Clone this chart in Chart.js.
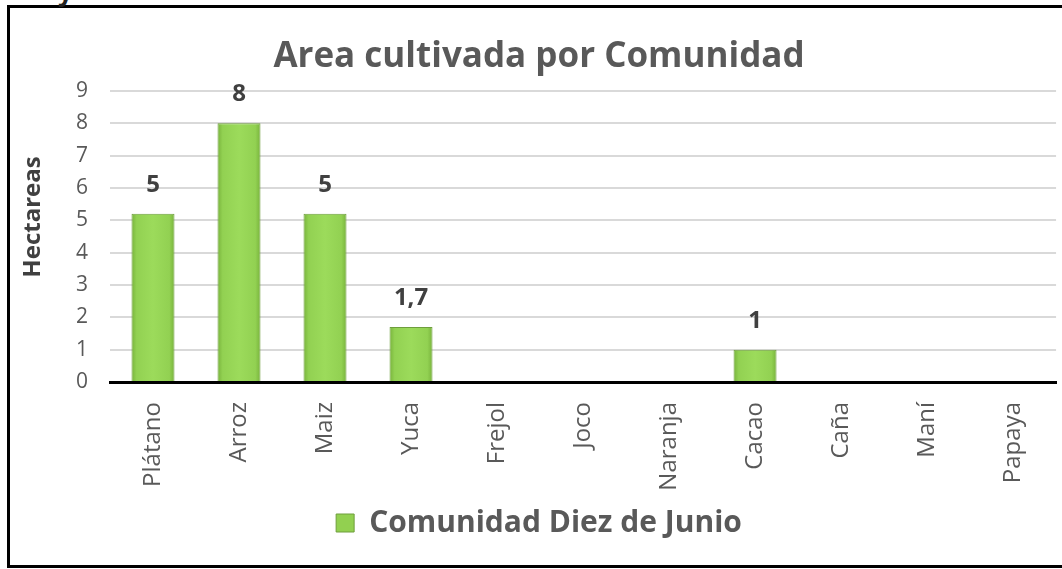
<!DOCTYPE html>
<html>
<head>
<meta charset="utf-8">
<script src="https://cdn.jsdelivr.net/npm/chart.js@4"></script>
<style>
  html, body { margin: 0; padding: 0; background: #fff; overflow: hidden; }
  #wrap { position: relative; width: 1062px; height: 569px; }
  #frame { position: absolute; left: 7px; top: 5px; width: 1100px; height: 563px;
           box-sizing: border-box; border: 3px solid #000; }
  #cut { position: absolute; left: 58px; top: -27px; font: bold 26px "Open Sans"; color: #222; }
  canvas { position: absolute; left: 0; top: 0; }
</style>
</head>
<body>
<div id="wrap">
  <div id="frame"></div>
  <div id="cut">y</div>
  <canvas id="myChart" width="1062" height="569"></canvas>
</div>
<script>
// data
const cultivos = ["Plátano", "Arroz", "Maiz", "Yuca", "Frejol", "Joco", "Naranja", "Cacao", "Caña", "Maní", "Papaya"];
const hectareas = [5.2, 8, 5.2, 1.7, 0, 0, 0, 1, 0, 0, 0];
const etiquetas = ["5", "8", "5", "1,7", "", "", "", "1", "", "", ""];
const ejeY = [0, 1, 2, 3, 4, 5, 6, 7, 8, 9];
const serie = "Comunidad Diez de Junio";

// bar fill with a light bevel look
function barFill(context) {
  const chart = context.chart;
  const xs = chart.scales.x;
  if (!chart.chartArea || !xs || context.dataIndex === undefined) return "#92d050";
  const cx = xs.getPixelForValue(context.dataIndex);
  const w = (xs.width / cultivos.length) * 0.5;
  const g = chart.ctx.createLinearGradient(cx - w / 2, 0, cx + w / 2, 0);
  g.addColorStop(0, "#78b33c");
  g.addColorStop(0.12, "#92d152");
  g.addColorStop(0.5, "#9cdb5b");
  g.addColorStop(0.88, "#92d152");
  g.addColorStop(1, "#78b33c");
  return g;
}

//plugin - value labels above bars + y title
const labelsPlugin = {
  id: "labelsPlugin",
  afterDatasetsDraw(chart) {
    const ctx = chart.ctx;
    const meta = chart.getDatasetMeta(0);
    ctx.save();
    ctx.font = "bold 24px 'Open Sans'";
    ctx.fillStyle = "#404040";
    ctx.textAlign = "center";
    ctx.textBaseline = "middle";
    meta.data.forEach((bar, i) => {
      if (etiquetas[i]) ctx.fillText(etiquetas[i], bar.x, bar.y - 29);
    });
    // y axis title
    ctx.translate(33, 217);
    ctx.rotate(-Math.PI / 2);
    ctx.font = "bold 24px 'Open Sans'";
    ctx.fillStyle = "#404040";
    ctx.fillText("Hectareas", 0, 0);
    ctx.restore();
  },
};

// setup block
const data = {
  labels: cultivos,
  datasets: [
    {
      label: serie,
      data: hectareas,
      backgroundColor: barFill,
      borderColor: "#6e9e3c",
      borderWidth: 1,
      categoryPercentage: 1,
      barPercentage: 0.5,
    },
  ],
};

// config block
const config = {
  type: "bar",
  data: data,
  options: {
    responsive: false,
    animation: false,
    layout: { padding: { left: 19, right: 3, top: 0, bottom: 21 } },
    plugins: {
      title: {
        display: true,
        text: "Area cultivada por Comunidad",
        color: "#595959",
        font: { family: "Open Sans", size: 35, weight: "bold" },
        padding: { top: 36, bottom: 13 },
      },
      legend: {
        position: "bottom",
        labels: {
          color: "#595959",
          font: { family: "Open Sans", size: 30, weight: "bold" },
          boxWidth: 18,
          boxHeight: 18,
          padding: 10,
          generateLabels(chart) {
            return [{ text: serie, fillStyle: "#92d050", strokeStyle: "#6e9e3c", lineWidth: 1, fontColor: "#595959", datasetIndex: 0 }];
          },
        },
      },
      tooltip: { enabled: false },
    },
    scales: {
      x: {
        grid: { display: false, drawTicks: false },
        border: { color: "#000", width: 3 },
        ticks: {
          color: "#595959",
          font: { family: "Open Sans", size: 24 },
          minRotation: 90,
          maxRotation: 90,
          padding: 20,
        },
        afterFit(scale) { scale.height = 116; },
      },
      y: {
        min: 0,
        max: ejeY[ejeY.length - 1],
        grid: { color: "#d9d9d9", lineWidth: 2, drawTicks: false },
        border: { display: false },
        ticks: {
          stepSize: 1,
          color: "#595959",
          font: { family: "Open Sans", size: 21 },
          padding: 22,
        },
        afterFit(scale) { scale.width = 91; },
      },
    },
  },
  plugins: [labelsPlugin],
};

// render init block
const myChart = new Chart(document.getElementById("myChart"), config);
</script>
</body>
</html>
